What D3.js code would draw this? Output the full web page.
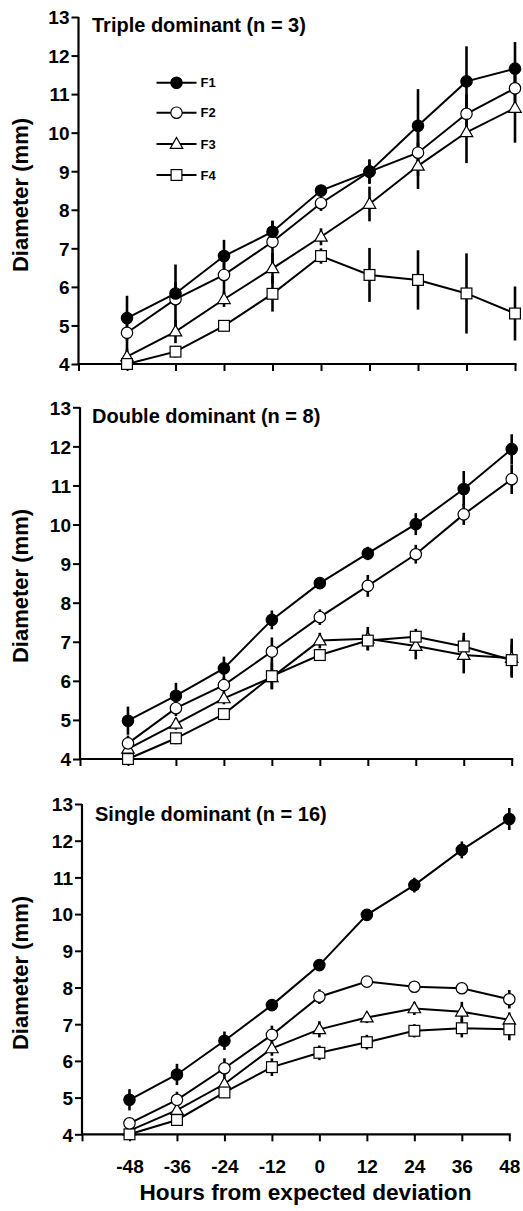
<!DOCTYPE html>
<html><head><meta charset="utf-8">
<script src="https://cdn.jsdelivr.net/npm/d3@7"></script>
<style>
html,body{margin:0;padding:0;background:#fff;}
svg text{font-family:"Liberation Sans",Arial,sans-serif;font-weight:bold;fill:#000;}
</style></head>
<body>
<svg id="chart" width="523" height="1211"></svg>
<script>
// ---------- DATA ----------
const hours = [-48, -36, -24, -12, 0, 12, 24, 36, 48];
const xTicks = [-60, -48, -36, -24, -12, 0, 12, 24, 36, 48];
const xTickLabels = ["", "-48", "-36", "-24", "-12", "0", "12", "24", "36", "48"];
const yTicks = [4, 5, 6, 7, 8, 9, 10, 11, 12, 13];
const seriesNames = ["F1", "F2", "F3", "F4"];
const panelTitles = ["Triple dominant (n = 3)", "Double dominant (n = 8)", "Single dominant (n = 16)"];

// Triple dominant
const tripleF1 = [5.19, 5.83, 6.80, 7.43, 8.50, 8.99, 10.18, 11.33, 11.66];
const tripleF1Err = [0.58, 0.30, 0.42, 0.28, 0.10, 0.32, 0.95, 0.91, 0.69];
const tripleF2 = [4.81, 5.68, 6.31, 7.17, 8.17, 8.99, 9.48, 10.49, 11.15];
const tripleF2Err = [0.55, 0.90, 0.50, 0.55, 0.20, 0.30, 0.60, 0.50, 0.50];
const tripleF3 = [4.19, 4.84, 5.68, 6.48, 7.30, 8.15, 9.14, 10.01, 10.64];
const tripleF3Err = [0.20, 0.30, 0.20, 0.40, 0.22, 0.45, 0.60, 0.80, 0.90];
const tripleF4 = [4.00, 4.32, 4.99, 5.82, 6.80, 6.31, 6.18, 5.83, 5.31];
const tripleF4Err = [0.10, 0.15, 0.10, 0.46, 0.20, 0.70, 0.77, 1.04, 0.70];

// Double dominant
const doubleF1 = [4.98, 5.62, 6.32, 7.56, 8.50, 9.26, 10.01, 10.91, 11.93];
const doubleF1Err = [0.36, 0.33, 0.30, 0.24, 0.10, 0.17, 0.28, 0.46, 0.38];
const doubleF2 = [4.40, 5.30, 5.89, 6.75, 7.63, 8.43, 9.24, 10.26, 11.16];
const doubleF2Err = [0.20, 0.20, 0.20, 0.36, 0.20, 0.28, 0.24, 0.27, 0.38];
const doubleF3 = [4.26, 4.90, 5.55, 6.09, 7.03, 7.08, 6.89, 6.66, 6.58];
const doubleF3Err = [0.15, 0.15, 0.15, 0.30, 0.20, 0.30, 0.34, 0.47, 0.50];
const doubleF4 = [4.00, 4.53, 5.15, 6.12, 6.66, 7.03, 7.13, 6.88, 6.53];
const doubleF4Err = [0.10, 0.15, 0.15, 0.34, 0.15, 0.25, 0.20, 0.35, 0.40];

// Single dominant
const singleF1 = [4.94, 5.63, 6.55, 7.52, 8.61, 9.98, 10.79, 11.75, 12.59];
const singleF1Err = [0.29, 0.29, 0.25, 0.15, 0.10, 0.10, 0.20, 0.23, 0.30];
const singleF2 = [4.30, 4.94, 5.80, 6.71, 7.75, 8.16, 8.02, 7.98, 7.68];
const singleF2Err = [0.15, 0.22, 0.27, 0.25, 0.20, 0.12, 0.12, 0.12, 0.25];
const singleF3 = [4.10, 4.66, 5.37, 6.34, 6.86, 7.18, 7.43, 7.34, 7.12];
const singleF3Err = [0.10, 0.15, 0.15, 0.20, 0.22, 0.15, 0.18, 0.27, 0.20];
const singleF4 = [4.00, 4.39, 5.14, 5.83, 6.22, 6.51, 6.82, 6.89, 6.86];
const singleF4Err = [0.10, 0.12, 0.15, 0.24, 0.20, 0.20, 0.18, 0.25, 0.30];

// ---------- LAYOUT ----------
const panels = [
  {title: panelTitles[0], means: [tripleF1, tripleF2, tripleF3, tripleF4], errs: [tripleF1Err, tripleF2Err, tripleF3Err, tripleF4Err],
   left: 78.5, right: 515, top: 17, bottom: 364, titleX: 92, titleY: 32, ylabY: 195, legend: true, xlabels: false},
  {title: panelTitles[1], means: [doubleF1, doubleF2, doubleF3, doubleF4], errs: [doubleF1Err, doubleF2Err, doubleF3Err, doubleF4Err],
   left: 80, right: 511.7, top: 407.3, bottom: 759, titleX: 92, titleY: 423, ylabY: 586, legend: false, xlabels: false},
  {title: panelTitles[2], means: [singleF1, singleF2, singleF3, singleF4], errs: [singleF1Err, singleF2Err, singleF3Err, singleF4Err],
   left: 82, right: 509.3, top: 804, bottom: 1134.3, titleX: 95, titleY: 821, ylabY: 973, legend: false, xlabels: true}
];

const svg = d3.select("#chart");

function drawMarker(g, type, x, y) {
  if (type === 0) {
    g.append("circle").attr("cx", x).attr("cy", y).attr("r", 5.7).attr("fill", "#000").attr("stroke", "#000").attr("stroke-width", 1.2);
  } else if (type === 1) {
    g.append("circle").attr("cx", x).attr("cy", y).attr("r", 5.7).attr("fill", "#fff").attr("stroke", "#000").attr("stroke-width", 1.2);
  } else if (type === 2) {
    const s = 12.5, h = s * 0.866;
    g.append("path").attr("d", `M${x},${y - h * 0.6}L${x + s / 2},${y + h * 0.4}L${x - s / 2},${y + h * 0.4}Z`)
      .attr("fill", "#fff").attr("stroke", "#000").attr("stroke-width", 1.2);
  } else {
    const s = 10.8;
    g.append("rect").attr("x", x - s / 2).attr("y", y - s / 2).attr("width", s).attr("height", s)
      .attr("fill", "#fff").attr("stroke", "#000").attr("stroke-width", 1.2);
  }
}

panels.forEach(p => {
  const x = d3.scaleLinear().domain([-60, 48]).range([p.left, p.right]);
  const y = d3.scaleLinear().domain([4, 13]).range([p.bottom, p.top]);
  const g = svg.append("g");

  // axes
  const yAxis = d3.axisLeft(y).tickValues(yTicks).tickSize(7).tickSizeOuter(0).tickPadding(2);
  const ya = g.append("g").attr("transform", `translate(${p.left},0)`).call(yAxis);
  ya.attr("font-size", 19);
  ya.select(".domain").attr("stroke-width", 2.2).attr("d", `M0,${p.top}V${p.bottom}`);
  ya.selectAll(".tick line").attr("stroke-width", 2);
  ya.selectAll(".tick text").style("font-size", "19px").attr("dy", "0.36em");

  const xAxis = d3.axisBottom(x).tickValues(xTicks).tickSize(7).tickSizeOuter(0).tickPadding(18)
    .tickFormat((d, i) => p.xlabels ? xTickLabels[i] : "");
  const xa = g.append("g").attr("transform", `translate(0,${p.bottom})`).call(xAxis);
  xa.attr("font-size", 19);
  xa.select(".domain").attr("stroke-width", 2.2).attr("d", `M${p.left},0H${p.right + 1.5}`);
  xa.selectAll(".tick line").attr("stroke-width", 2);
  xa.selectAll(".tick text").style("font-size", "19px");

  // title
  g.append("text").attr("x", p.titleX).attr("y", p.titleY).style("font-size", "20px").text(p.title);
  // y label
  g.append("text").attr("transform", `translate(28,${p.ylabY}) rotate(-90)`).attr("text-anchor", "middle")
    .style("font-size", "22px").text("Diameter (mm)");

  // error bars
  p.means.forEach((m, si) => {
    m.forEach((v, i) => {
      const e = p.errs[si][i];
      g.append("line").attr("x1", x(hours[i])).attr("x2", x(hours[i]))
        .attr("y1", y(v - e)).attr("y2", y(v + e)).attr("stroke", "#000").attr("stroke-width", 2.6);
    });
  });
  // lines
  const line = d3.line().x((d, i) => x(hours[i])).y(d => y(d));
  p.means.forEach(m => {
    g.append("path").datum(m).attr("d", line).attr("fill", "none").attr("stroke", "#000").attr("stroke-width", 2);
  });
  // markers
  [2, 3, 1, 0].forEach(si => {
    p.means[si].forEach((v, i) => drawMarker(g, si, x(hours[i]), y(v)));
  });

  // legend
  if (p.legend) {
    const lx0 = 156.5, lx1 = 196.5, ly = [82.7, 112.7, 144, 175];
    seriesNames.forEach((name, si) => {
      g.append("line").attr("x1", lx0).attr("x2", lx1).attr("y1", ly[si]).attr("y2", ly[si])
        .attr("stroke", "#000").attr("stroke-width", 2);
      drawMarker(g, si, (lx0 + lx1) / 2, ly[si]);
      g.append("text").attr("x", 200.5).attr("y", ly[si]).attr("dy", "0.36em").style("font-size", "13px").text(name);
    });
  }

  if (p.xlabels) {
    g.append("text").attr("x", 305.5).attr("y", 1200).attr("text-anchor", "middle").style("font-size", "22px")
      .attr("textLength", 332).attr("lengthAdjust", "spacingAndGlyphs")
      .text("Hours from expected deviation");
  }
});
</script>
</body></html>
